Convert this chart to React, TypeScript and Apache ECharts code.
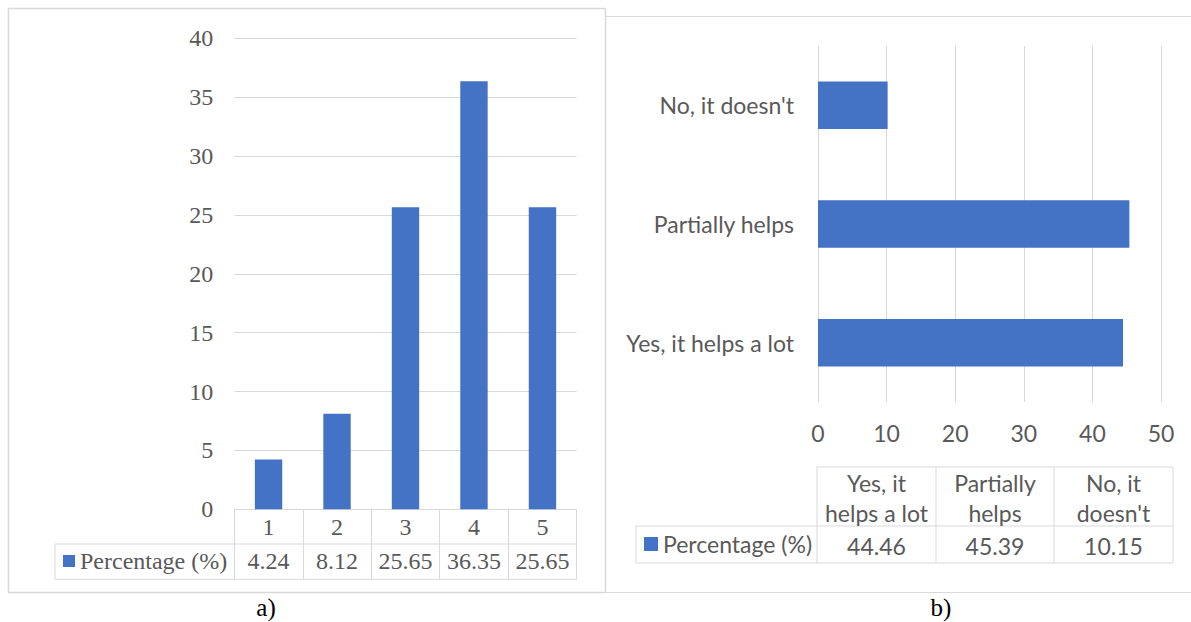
import React, { useEffect, useRef } from "react";
import * as echarts from "echarts";

// ---- data ----
const catsA = ["1", "2", "3", "4", "5"];
const valsA = [4.24, 8.12, 25.65, 36.35, 25.65];
const yMinA = 0;
const yMaxA = 40;
const yStepA = 5;

const catsB = ["Yes, it helps a lot", "Partially helps", "No, it doesn't"];
const headB = ["Yes, it\nhelps a lot", "Partially\nhelps", "No, it\ndoesn't"];
const valsB = [44.46, 45.39, 10.15];
const xMinB = 0;
const xMaxB = 50;
const xStepB = 10;

const seriesName = "Percentage (%)";
const panelLabels = ["a)", "b)"];

// ---- style ----
const BLUE = "#4472c4";
const GRID = "#d9d9d9";
const TXT = "#595959";
const SERIF = "'Liberation Serif', 'Times New Roman', serif";
const SANS = "Lato, 'Liberation Sans', sans-serif";

export default function App() {
  const ref = useRef<HTMLDivElement>(null);
  useEffect(() => {
    if (!ref.current) return;
    const chart = echarts.init(ref.current, null, { renderer: "svg" });

    const line = (x1: number, y1: number, x2: number, y2: number) => ({
      type: "line",
      shape: { x1, y1, x2, y2 },
      style: { stroke: GRID, lineWidth: 1 },
      silent: true,
    });

    // right table geometry
    const colB = [817, 936, 1054, 1173];
    const tTop = 467, tMid = 526, tBot = 563, legL = 636;
    const tableB: any[] = [
      line(colB[0], tTop, colB[3], tTop),
      line(legL, tMid, colB[3], tMid),
      line(legL, tBot, colB[3], tBot),
      line(legL, tMid, legL, tBot),
      ...colB.map((x) => line(x, tTop, x, tBot)),
    ];
    headB.forEach((h, i) => {
      tableB.push({
        type: "text",
        x: (colB[i] + colB[i + 1]) / 2,
        y: (tTop + tMid) / 2 + 1,
        style: {
          text: h,
          fill: TXT,
          fontFamily: SANS,
          fontSize: 23,
          lineHeight: 30,
          align: "center",
          verticalAlign: "middle",
        },
      });
      tableB.push({
        type: "text",
        x: (colB[i] + colB[i + 1]) / 2,
        y: (tMid + tBot) / 2 + 1,
        style: {
          text: valsB[i].toFixed(2),
          fill: TXT,
          fontFamily: SANS,
          fontSize: 23,
          align: "center",
          verticalAlign: "middle",
        },
      });
    });

    const option: any = {
      animation: false,
      backgroundColor: "#ffffff",
      grid: [
        { left: 234.3, top: 38.4, width: 342.4, height: 470.9, outerBoundsMode: "none" },
        { left: 818, top: 46, width: 343, height: 356, outerBoundsMode: "none" },
      ],
      legend: [
        {
          data: [seriesName],
          left: 63,
          top: 549,
          padding: 0,
          icon: "rect",
          itemWidth: 12,
          itemHeight: 12,
          itemGap: 5,
          selectedMode: false,
          textStyle: { fontFamily: SERIF, fontSize: 24, color: TXT, lineHeight: 24 },
        },
        {
          data: [seriesName],
          left: 644,
          top: 532,
          padding: 0,
          icon: "rect",
          itemWidth: 14,
          itemHeight: 14,
          selectedMode: false,
          textStyle: { fontFamily: SANS, fontSize: 23, color: TXT, lineHeight: 24 },
        },
      ],
      xAxis: [
        {
          type: "category",
          gridIndex: 0,
          data: catsA,
          axisLine: { lineStyle: { color: GRID, width: 1 } },
          axisTick: { show: true, length: 70, interval: 0, lineStyle: { color: GRID } },
          axisLabel: { interval: 0, fontFamily: SERIF, fontSize: 24, color: TXT, margin: 6, lineHeight: 24 },
        },
        {
          type: "category",
          gridIndex: 0,
          position: "bottom",
          offset: 35,
          data: valsA.map((v) => v.toFixed(2)),
          axisLine: { show: false },
          axisTick: { show: false },
          axisLabel: { interval: 0, fontFamily: SERIF, fontSize: 24, color: TXT, margin: 5, lineHeight: 24 },
        },
        {
          type: "value",
          gridIndex: 1,
          min: xMinB,
          max: xMaxB,
          interval: xStepB,
          axisLine: { show: false },
          axisTick: { show: false },
          splitLine: { lineStyle: { color: GRID, width: 1 } },
          axisLabel: { fontFamily: SANS, fontSize: 23, color: TXT, margin: 19 },
        },
      ],
      yAxis: [
        {
          type: "value",
          gridIndex: 0,
          min: yMinA,
          max: yMaxA,
          interval: yStepA,
          axisLine: { show: false },
          axisTick: { show: false },
          splitLine: { lineStyle: { color: GRID, width: 1 } },
          axisLabel: { fontFamily: SERIF, fontSize: 24, color: TXT, margin: 21 },
        },
        {
          type: "category",
          gridIndex: 1,
          data: catsB,
          axisLine: { show: false },
          axisTick: { show: false },
          axisLabel: { fontFamily: SANS, fontSize: 23, color: TXT, margin: 24 },
        },
      ],
      series: [
        {
          type: "bar",
          name: seriesName,
          xAxisIndex: 0,
          yAxisIndex: 0,
          data: valsA,
          barWidth: "40%",
          itemStyle: { color: BLUE },
        },
        {
          type: "bar",
          name: seriesName,
          xAxisIndex: 2,
          yAxisIndex: 1,
          data: valsB,
          barWidth: "40%",
          itemStyle: { color: BLUE },
        },
      ],
      graphic: [
        // panel borders
        {
          type: "rect",
          shape: { x: 8.5, y: 8.5, width: 597, height: 584 },
          style: { fill: "none", stroke: GRID, lineWidth: 1.5 },
          silent: true,
        },
        line(605.5, 16.5, 1191, 16.5),
        line(605.5, 592.5, 1191, 592.5),
        // left table horizontal lines
        line(55, 544, 577, 544),
        line(55, 579.3, 577, 579.3),
        line(55, 544, 55, 579.3),
        ...tableB,
        {
          type: "text",
          x: 266,
          y: 607,
          style: { text: panelLabels[0], fill: "#000", fontFamily: SERIF, fontSize: 25, lineHeight: 26, align: "center", verticalAlign: "middle" },
        },
        {
          type: "text",
          x: 941,
          y: 607,
          style: { text: panelLabels[1], fill: "#000", fontFamily: SERIF, fontSize: 25, lineHeight: 26, align: "center", verticalAlign: "middle" },
        },
      ],
    };
    chart.setOption(option);
    return () => chart.dispose();
  }, []);
  return (
    <div
      ref={ref}
      style={{ position: "fixed", left: 0, top: 0, width: 1191, height: 622, background: "#fff" }}
    />
  );
}
